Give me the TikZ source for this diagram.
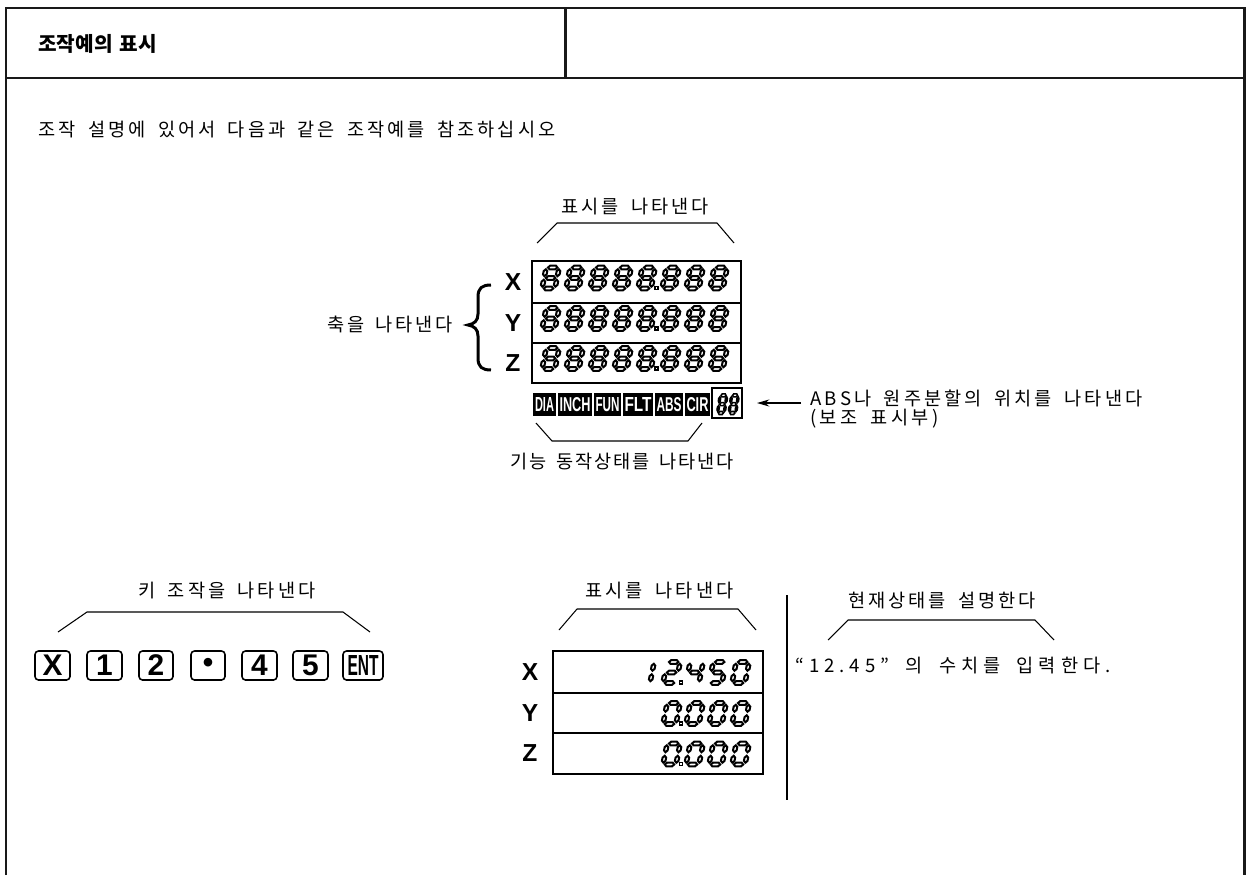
\documentclass[tikz,border=0pt]{standalone}
\usepackage{fontspec}
\setmainfont{Noto Sans CJK KR}
\newfontfamily\lib{Liberation Sans}
\usetikzlibrary{arrows.meta}
\newdimen\pxu \pxu=0.02cm
\makeatletter
\def\spr@loop#1{\ifx#1\relax\else#1\hfill\expandafter\spr@loop\fi}
\newcommand\spreadtext[2]{\makebox[#1\pxu][s]{\spr@loop#2\relax\unskip}}
\makeatother
\def\W{\hspace{0.35em}}
% seven segment digits (hexagonal hollow segments)
\def\segL{1.15pt}
\tikzset{
  seg/.style={line width=\segL,draw=black,fill=white,line join=miter},
  frame/.style={line width=1.7pt,black!90},
  brk/.style={line width=0.6pt},
  dbox/.style={line width=0.8pt},
  keybox/.style={line width=0.9pt,rounded corners=2pt},
  keytxt/.style={inner sep=0,font=\lib\bfseries\fontsize{17}{18}\selectfont},
  axl/.style={inner sep=0,font=\lib\bfseries\fontsize{14}{15}\selectfont},
  kr/.style={inner sep=0,anchor=west,font=\fontsize{10.6}{12}\selectfont},
  stat/.style={inner sep=0,text=white}
}
\newcommand\hseg[3]{\draw[seg] (#1,#3) -- (#1+1.8,#3-1.8) -- (#2-1.8,#3-1.8) -- (#2,#3) -- (#2-1.8,#3+1.8) -- (#1+1.8,#3+1.8) -- cycle;}
\newcommand\vseg[3]{\draw[seg] (#1,#2) -- (#1+1.8,#2+1.8) -- (#1+1.8,#3-1.8) -- (#1,#3) -- (#1-1.8,#3-1.8) -- (#1-1.8,#2+1.8) -- cycle;}
\def\sA{\hseg{1.8}{11.2}{-21}}
\def\sG{\hseg{1.8}{11.2}{-10.5}}
\def\sD{\hseg{1.8}{11.2}{0}}
\def\sF{\vseg{0}{-19.2}{-12.3}}
\def\sE{\vseg{0}{-8.7}{-1.8}}
\def\sB{\vseg{13}{-19.2}{-12.3}}
\def\sC{\vseg{13}{-8.7}{-1.8}}
\def\dEight{\sA\sB\sC\sD\sE\sF\sG}
\def\dZero{\sA\sB\sC\sD\sE\sF}
\def\dOne{\sB\sC}
\def\dTwo{\sA\sB\sG\sE\sD}
\def\dFour{\sF\sG\sB\sC}
\def\dFive{\sA\sF\sG\sC\sD}
\newcommand\digit[3]{\begin{scope}[shift={(#1,#2)},xslant=0.2]#3\end{scope}}
\newcommand\dpt[2]{\draw[line width=0.8pt,fill=white] (#1-1.4,#2-1.4) rectangle (#1+1.4,#2+1.4);}
\begin{document}
\begin{tikzpicture}[x=0.02cm,y=-0.02cm]
\useasboundingbox (0,0) rectangle (1250,875);
% frame
\draw[frame] (6,875) -- (6,8) -- (1244,8) -- (1244,875);
\draw[frame] (6,78) -- (1244,78);
\draw[frame] (565,8) -- (565,78);
\node[kr,font=\bfseries\fontsize{11.5}{13}\selectfont] (title) at (38,44) {\spreadtext{118}{조작예의\W 표시}};
\node[kr] (sub) at (38,129) {\spreadtext{517}{조작\W 설명에\W 있어서\W 다음과\W 같은\W 조작예를\W 참조하십시오}};
% ---- top display ----
\node[kr] (t1) at (561,207) {\spreadtext{147}{표시를\W 나타낸다}};
\draw[brk] (537,243) -- (557,223) -- (717,223) -- (734,243);
\draw[dbox] (532,261) rectangle (741,383);
\draw[dbox] (532,303) -- (741,303);
\draw[dbox] (532,343) -- (741,343);
\foreach \yb in {288.5,329,369}{
  \foreach \i in {0,...,7}{\digit{542+24*\i}{\yb}{\dEight}}
  \dpt{656.5}{\yb-0.5}
}
\node[axl] (ax) at (513,282) {X};
\node[axl] (ay) at (513,323) {Y};
\node[axl] (az) at (513,363) {Z};
\draw[line width=1.7pt] (491,285) .. controls (482,285) and (478,288) .. (478,297) -- (478,314)
  .. controls (478,321) and (474,324) .. (468,325) .. controls (474,326) and (478,329) .. (478,336)
  -- (478,358) .. controls (478,367) and (482,370) .. (491,370);
\node[kr] (axes) at (327,324) {\spreadtext{125}{축을\W 나타낸다}};
% status bar
\foreach \a/\b/\w/\t in {533/556/19/DIA,558/592/31/INCH,594/621/24/FUN,623/653/27/FLT,655/683/25/ABS,685/710/22/CIR}{
  \fill (\a,393) rectangle (\b,416);
  \node[stat] (s\t) at ({(\a+\b)/2},404.5) {\resizebox{\w\pxu}{14\pxu}{\lib\bfseries \t}};
}
\draw[line width=0.9pt] (712,388) rectangle (742,418);
{\def\segL{0.9pt}
\begin{scope}[shift={(717.5,413)},xslant=0.15,xscale=0.52,yscale=0.84]\dEight\end{scope}
\begin{scope}[shift={(729,413)},xslant=0.15,xscale=0.52,yscale=0.84]\dEight\end{scope}
}
\coordinate (arrS) at (801,403);
\coordinate (arrE) at (757,403);
\draw[line width=0.7pt,-{Stealth[length=7pt,width=4pt]}] (arrS) -- (arrE);
\node[kr] (abs1) at (810,398) {\spreadtext{332}{ABS나\W 원주분할의\W 위치를\W 나타낸다}};
\node[kr] (abs2) at (810,419) {\spreadtext{128}{(보조\W 표시부)}};
\draw[brk] (536,423) -- (552,441) -- (688,441) -- (702,423);
\node[kr] (func) at (510,462) {\spreadtext{223}{기능\W 동작상태를\W 나타낸다}};
% ---- keys ----
\node[kr] (keyl) at (138,591) {\spreadtext{177}{키\W 조작을\W 나타낸다}};
\draw[brk] (58,632) -- (87,612) -- (343,612) -- (370,632);
\foreach \a/\b/\t [count=\n] in {35/70/X,87/122/1,139/173/2,191/225/•,242/277/4,293/328/5}{
  \draw[keybox] (\a,651) rectangle (\b,680);
  \node[keytxt] (key\n) at ({(\a+\b)/2},665.5) {\t};
}
\draw[keybox] (343,651) rectangle (383,680);
\node[inner sep=0] (keyENT) at (363,665.5) {\resizebox{31\pxu}{20\pxu}{\lib\bfseries ENT}};
% ---- bottom display ----
\node[kr] (t2) at (585,591) {\spreadtext{148}{표시를\W 나타낸다}};
\draw[brk] (559,630) -- (577,609) -- (738,609) -- (756,630);
\draw[dbox] (553,651) rectangle (763,774);
\draw[dbox] (553,693) -- (763,693);
\draw[dbox] (553,733) -- (763,733);
\node[axl] (bx) at (530,672) {X};
\node[axl] (by) at (530,713) {Y};
\node[axl] (bz) at (530,753) {Z};
\digit{637}{683}{\dOne}\digit{663}{683}{\dTwo}\dpt{681}{682.5}
\digit{686}{683}{\dFour}\digit{709}{683}{\dFive}\digit{732}{683}{\dZero}
\foreach \yb in {724,764.5}{
  \digit{663}{\yb}{\dZero}\dpt{681}{\yb-0.5}
  \digit{686}{\yb}{\dZero}\digit{709}{\yb}{\dZero}\digit{732}{\yb}{\dZero}
}
\draw[line width=0.9pt] (787,595) -- (787,800);
\node[kr] (cur) at (848,601) {\spreadtext{187}{현재상태를\W 설명한다}};
\draw[brk] (828,640) -- (848,620) -- (1035,620) -- (1054,640);
\node[kr] (inp) at (795,666) {\spreadtext{315}{“12.45”\W 의\W 수치를\W 입력한다.}};
\end{tikzpicture}
\end{document}
